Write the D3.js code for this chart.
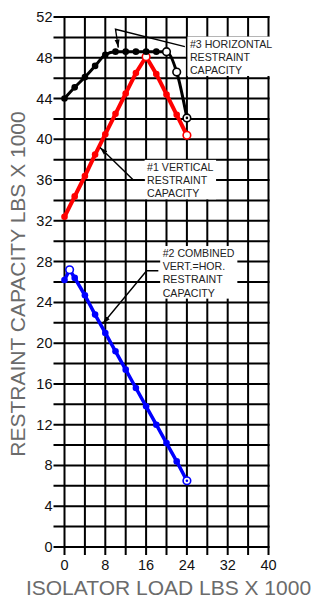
<!DOCTYPE html>
<html>
<head>
<meta charset="utf-8">
<script src="https://cdn.jsdelivr.net/npm/d3@7"></script>
<style>
  body { margin: 0; background: #fff; }
  svg { display: block; font-family: "Liberation Sans", Arial, sans-serif; }
</style>
</head>
<body>
<div id="chart"></div>
<script>
// isolator load (x 1000 lbs)
var loadX = [0, 2, 4, 6, 8, 10, 12, 14, 16, 18, 20, 22, 24];
var combLoadX = [0, 1, 2, 4, 6, 8, 10, 12, 14, 16, 18, 20, 22, 24];

// restraint capacity (x 1000 lbs)
var horizCap = [44.0, 45.1, 46.1, 47.2, 48.3, 48.6, 48.6, 48.6, 48.6, 48.6, 48.6, 46.6, 42.1];
var vertCap = [32.4, 34.4, 36.4, 38.5, 40.5, 42.5, 44.5, 46.5, 48.1, 46.4, 44.4, 42.4, 40.4];
var combCap = [26.2, 27.2, 26.4, 24.7, 22.8, 21.0, 19.2, 17.4, 15.6, 13.8, 12.0, 10.2, 8.4, 6.5];

// marker kinds per point
var horizMarks = ['dot', 'dot', 'dot', 'dot', 'dot', 'dot', 'dot', 'dot', 'dot', 'dot', 'ring', 'ring', 'ringdot'];
var vertMarks = ['dot', 'dot', 'dot', 'dot', 'dot', 'dot', 'dot', 'dot', 'ring', 'dot', 'dot', 'dot', 'ring'];
var combMarks = ['dot', 'ring', 'dot', 'dot', 'dot', 'dot', 'dot', 'dot', 'dot', 'dot', 'dot', 'dot', 'dot', 'ringdot'];

// ticks
var xTickLabels = [0, 8, 16, 24, 32, 40];
var yTickLabels = [0, 4, 8, 12, 16, 20, 24, 28, 32, 36, 40, 44, 48, 52];

var xTitle = 'ISOLATOR LOAD LBS X 1000';
var yTitle = 'RESTRAINT CAPACITY LBS X 1000';

// callouts: text, text anchor and leader path in data units
var noteText = [
	['#3 HORIZONTAL', 'RESTRAINT', 'CAPACITY'],
	['#1 VERTICAL', 'RESTRAINT', 'CAPACITY'],
	['#2 COMBINED', 'VERT.=HOR.', 'RESTRAINT', 'CAPACITY']
];
var noteAt = [[24.6, 49.0], [16.2, 36.9], [19.25, 28.45]];
var noteLeader = [
	[[23.6, 49.1], [10.0, 50.8], [10.55, 49.0]],
	[[15.8, 36.0], [13.5, 36.0], [6.96, 39.2]],
	[[18.4, 27.1], [16.1, 27.1], [7.5, 21.9]]
];

var width = 312, height = 600;
var svg = d3.select('#chart').append('svg')
	.attr('width', width)
	.attr('height', height);

var x = d3.scaleLinear().domain([0, 40]).range([64.5, 268.5]);
var y = d3.scaleLinear().domain([0, 52]).range([547, 17]);

// grid
var grid = svg.append('g').attr('stroke', '#000').attr('stroke-width', 2);
grid.selectAll('line.h')
	.data(d3.range(0, 53, 2))
	.enter().append('line')
	.attr('class', 'h')
	.attr('x1', x(0) - 11)
	.attr('x2', x(40) + 1)
	.attr('y1', function (d) { return y(d); })
	.attr('y2', function (d) { return y(d); });
grid.selectAll('line.v')
	.data(d3.range(0, 41, 4))
	.enter().append('line')
	.attr('class', 'v')
	.attr('x1', function (d) { return x(d); })
	.attr('x2', function (d) { return x(d); })
	.attr('y1', y(52) - 1)
	.attr('y2', y(0) + 8);

// tick labels
svg.append('g').selectAll('text')
	.data(yTickLabels)
	.enter().append('text')
	.attr('x', x(0) - 12)
	.attr('y', function (d) { return y(d) + 5; })
	.attr('text-anchor', 'end')
	.attr('font-size', 14.5)
	.attr('fill', '#111')
	.text(function (d) { return d; });
svg.append('g').selectAll('text')
	.data(xTickLabels)
	.enter().append('text')
	.attr('x', function (d) { return x(d); })
	.attr('y', y(0) + 23)
	.attr('text-anchor', 'middle')
	.attr('font-size', 14.5)
	.attr('fill', '#111')
	.text(function (d) { return d; });

// axis titles
svg.append('text')
	.attr('x', (x(0) + x(40)) / 2 + 2)
	.attr('y', 595)
	.attr('text-anchor', 'middle')
	.attr('font-size', 21)
	.attr('fill', '#6b6b6b')
	.text(xTitle);
svg.append('text')
	.attr('transform', 'translate(25,' + ((y(0) + y(52)) / 2 + 2) + ') rotate(-90)')
	.attr('text-anchor', 'middle')
	.attr('font-size', 21)
	.attr('fill', '#6b6b6b')
	.text(yTitle);

// series
var series = [
	{ xs: loadX, ys: vertCap, marks: vertMarks, color: '#ff0000', w: 4, curve: d3.curveLinear },
	{ xs: combLoadX, ys: combCap, marks: combMarks, color: '#0000ff', w: 3.5, curve: d3.curveLinear },
	{ xs: loadX, ys: horizCap, marks: horizMarks, color: '#000000', w: 3, curve: d3.curveMonotoneX }
];

series.forEach(function (s) {
	var pts = s.xs.map(function (v, i) { return { x: v, y: s.ys[i], m: s.marks[i] }; });
	var line = d3.line()
		.x(function (d) { return x(d.x); })
		.y(function (d) { return y(d.y); })
		.curve(s.curve);
	var g = svg.append('g');
	g.append('path')
		.datum(pts)
		.attr('d', line)
		.attr('fill', 'none')
		.attr('stroke', s.color)
		.attr('stroke-width', s.w)
		.attr('stroke-linejoin', 'round');
	g.selectAll('circle.dot')
		.data(pts.filter(function (d) { return d.m === 'dot'; }))
		.enter().append('circle')
		.attr('cx', function (d) { return x(d.x); })
		.attr('cy', function (d) { return y(d.y); })
		.attr('r', 3.3)
		.attr('fill', s.color);
	g.selectAll('circle.ring')
		.data(pts.filter(function (d) { return d.m !== 'dot'; }))
		.enter().append('circle')
		.attr('cx', function (d) { return x(d.x); })
		.attr('cy', function (d) { return y(d.y); })
		.attr('r', 3.8)
		.attr('fill', '#fff')
		.attr('stroke', s.color)
		.attr('stroke-width', 1.6);
	g.selectAll('circle.center')
		.data(pts.filter(function (d) { return d.m === 'ringdot'; }))
		.enter().append('circle')
		.attr('cx', function (d) { return x(d.x); })
		.attr('cy', function (d) { return y(d.y); })
		.attr('r', 1.3)
		.attr('fill', s.color);
});

// re-dot the black point sitting inside the red ring at 16
svg.append('circle')
	.attr('cx', x(16))
	.attr('cy', y(horizCap[8]))
	.attr('r', 2.2)
	.attr('fill', '#000');

// callouts
svg.append('defs').append('marker')
	.attr('id', 'arrow')
	.attr('viewBox', '0 -3 8 6')
	.attr('refX', 8)
	.attr('refY', 0)
	.attr('markerWidth', 8)
	.attr('markerHeight', 6)
	.attr('markerUnits', 'userSpaceOnUse')
	.attr('orient', 'auto')
	.append('path')
	.attr('d', 'M0,-2.5L8,0L0,2.5Z')
	.attr('fill', '#000');

noteText.forEach(function (lines, i) {
	var g = svg.append('g');
	var box = g.append('rect').attr('fill', '#fff');
	var t = g.append('text')
		.attr('font-size', 10.6)
		.attr('fill', '#222');
	lines.forEach(function (ln, j) {
		t.append('tspan')
			.attr('x', x(noteAt[i][0]))
			.attr('y', y(noteAt[i][1]) + j * 13.2)
			.text(ln);
	});
	var bb = t.node().getBBox();
	box.attr('x', bb.x - 2.5)
		.attr('y', bb.y - 1)
		.attr('width', bb.width + 5)
		.attr('height', bb.height + 1);
	svg.append('path')
		.datum(noteLeader[i])
		.attr('d', d3.line().x(function (d) { return x(d[0]); }).y(function (d) { return y(d[1]); }))
		.attr('fill', 'none')
		.attr('stroke', '#000')
		.attr('stroke-width', 1.4)
		.attr('marker-end', 'url(#arrow)');
});
</script>
</body>
</html>
